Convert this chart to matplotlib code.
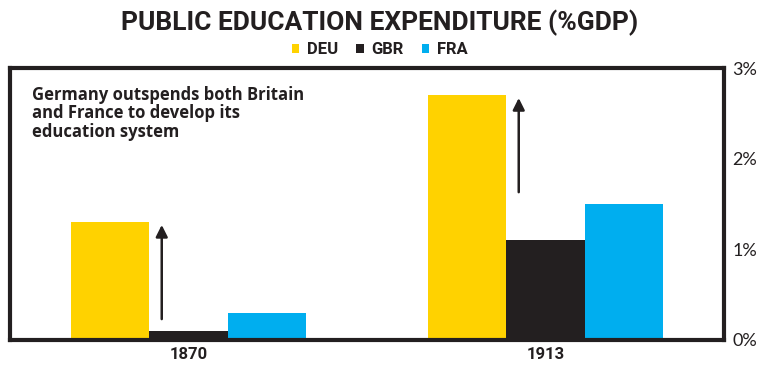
import numpy as np
import matplotlib
matplotlib.use("Agg")
import matplotlib.pyplot as plt
from matplotlib.ticker import FuncFormatter

years = ["1870", "1913"]
countries = ["DEU", "GBR", "FRA"]
deu = [1.3, 2.7]
gbr = [0.1, 1.1]
fra = [0.3, 1.5]
colors = ["#FFD200", "#231F20", "#00AEEF"]
note = "Germany outspends both Britain\nand France to develop its\neducation system"

plt.rcParams['font.family'] = ['Lato', 'DejaVu Sans']
ink = "#231F20"
narrow = ["Roboto", "DejaVu Sans"]

fig = plt.figure(figsize=(7.59, 3.69), dpi=100)
ax = fig.add_axes([0.0132, 0.0786, 0.9407, 0.737])

x = np.arange(len(years))
w = 0.22
for i, (name, vals) in enumerate(zip(countries, [deu, gbr, fra])):
    ax.bar(x + (i - 1) * w, vals, width=w, color=colors[i], label=name, zorder=2)

# arrows showing the German lead
for xi, v in zip(x, deu):
    ax.annotate("", xy=(xi - 0.075, v), xytext=(xi - 0.075, v - 1.1),
                arrowprops=dict(arrowstyle="-|>,head_width=0.35,head_length=0.7",
                                color=ink, lw=1.8), zorder=3)

ax.set_xlim(-0.5, 1.5)
ax.set_ylim(0, 3)
ax.set_xticks(x)
ax.set_xticklabels(years, fontweight="bold", fontsize=12, family=narrow)
ax.set_yticks([0, 1, 2, 3])
ax.yaxis.set_major_formatter(FuncFormatter(lambda v, p: f"{v:.0f}%"))
ax.yaxis.tick_right()
ax.tick_params(axis="y", length=0, labelsize=13, pad=6, colors=ink)
ax.tick_params(axis="x", length=0, pad=5, colors=ink)
for s in ax.spines.values():
    s.set_linewidth(3)
    s.set_color(ink)

ax.text(0.031, 0.935, note, transform=ax.transAxes, ha="left", va="top",
        fontsize=12, fontweight="bold", color=ink, linespacing=1.05,
        family=["Open Sans", "DejaVu Sans"])

fig.text(0.5, 0.938, "PUBLIC EDUCATION EXPENDITURE (%GDP)", ha="center", va="center",
         fontsize=19, fontweight="bold", color=ink, family=narrow)

leg = fig.legend(loc="center", bbox_to_anchor=(0.5, 0.865), ncol=3, frameon=False,
                 handlelength=0.45, handleheight=0.45, handletextpad=0.45,
                 columnspacing=1.1, prop=dict(weight="bold", size=12, family=narrow))
for t in leg.get_texts():
    t.set_color(ink)

fig.savefig("out.png", dpi=100, facecolor="white")
